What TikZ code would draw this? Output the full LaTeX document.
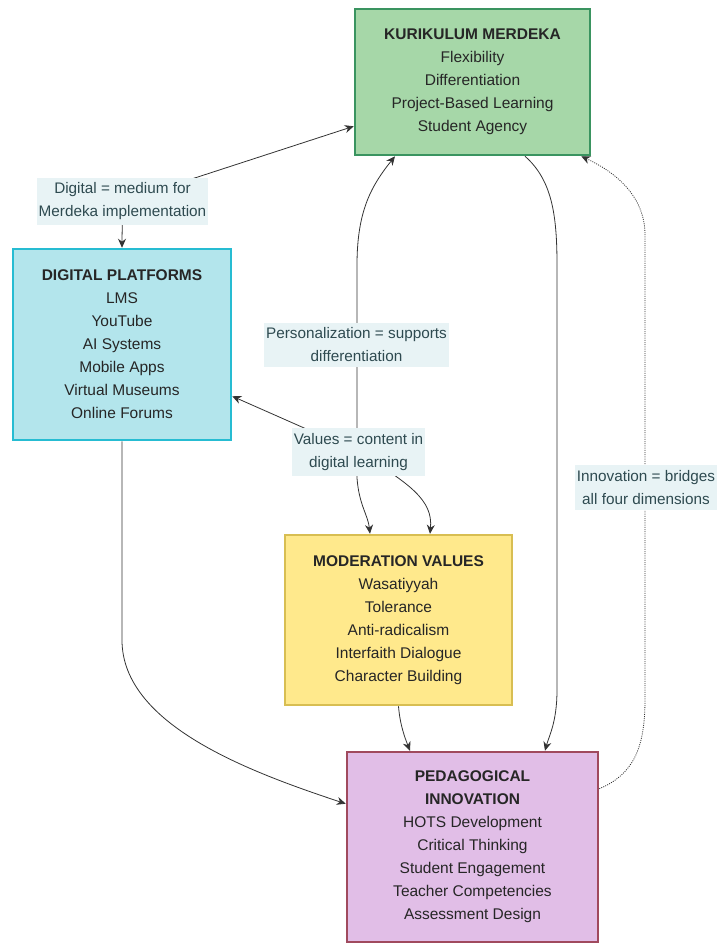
\documentclass[tikz,border=0pt]{standalone}
\usepackage{fontspec}
\setmainfont{Liberation Sans}
\usepackage{tikz}
\usetikzlibrary{calc}
\usetikzlibrary{arrows.meta}
\usetikzlibrary{backgrounds}

\definecolor{kmfill}{HTML}{A6D7A8}
\definecolor{kmline}{HTML}{3A9460}
\definecolor{dpfill}{HTML}{B3E5EC}
\definecolor{dpline}{HTML}{26BCD2}
\definecolor{mvfill}{HTML}{FFE98C}
\definecolor{mvline}{HTML}{D8BE52}
\definecolor{pifill}{HTML}{E1BEE7}
\definecolor{piline}{HTML}{A04A5E}
\definecolor{labelfill}{HTML}{E8F3F5}
\definecolor{labeltext}{HTML}{2E4A50}
\definecolor{edgegray}{HTML}{333333}

\begin{document}
\begin{tikzpicture}[x=1pt,y=-1pt]
  \tikzset{myedge/.style={draw=edgegray, line width=0.8pt, >={Stealth[length=9pt,width=8pt]}}};
  \tikzset{mybox/.style={rectangle, line width=2.5pt, align=center, text=black!85, font=\fontsize{15.5}{23}\selectfont}};
  \tikzset{mylabel/.style={fill=labelfill, text=labeltext, align=center, inner xsep=2pt, inner ysep=5pt, font=\fontsize{15.3}{23}\selectfont}};

  \useasboundingbox (0,0) rectangle (716,943);

  \node[mybox, fill=kmfill, draw=kmline, minimum width=235pt, minimum height=146pt] (km) at (472.5,82)
    {\textbf{KURIKULUM MERDEKA}\\Flexibility\\Differentiation\\Project-Based Learning\\Student Agency};
  \node[mybox, fill=dpfill, draw=dpline, minimum width=218pt, minimum height=191pt] (dp) at (122,344.5)
    {\textbf{DIGITAL PLATFORMS}\\LMS\\YouTube\\AI Systems\\Mobile Apps\\Virtual Museums\\Online Forums};
  \node[mybox, fill=mvfill, draw=mvline, minimum width=227pt, minimum height=170pt] (mv) at (398.5,620)
    {\textbf{MODERATION VALUES}\\Wasatiyyah\\Tolerance\\Anti-radicalism\\Interfaith Dialogue\\Character Building};
  \node[mybox, fill=pifill, draw=piline, minimum width=251pt, minimum height=190pt] (pi) at (472.5,847)
    {\textbf{PEDAGOGICAL}\\\textbf{INNOVATION}\\HOTS Development\\Critical Thinking\\Student Engagement\\Teacher Competencies\\Assessment Design};

  \node[mylabel] (lbldigital) at (122.5,201.5) {Digital = medium for\\Merdeka implementation};
  \node[mylabel] (lblperson) at (356.5,345) {Personalization = supports\\differentiation};
  \node[mylabel] (lblvalues) at (358.5,452) {Values = content in\\digital learning};
  \node[mylabel] (lblinnov) at (646,487.5) {Innovation = bridges\\all four dimensions};

  \coordinate (kmA) at ([yshift=30pt]km.south west);
  \coordinate (kmB) at ([xshift=-77.5pt]km.south);
  \coordinate (kmC) at ([xshift=52.5pt]km.south);
  \coordinate (kmD) at ([xshift=-10pt]km.south east);
  \coordinate (dpE) at ([yshift=45pt]dp.south east);
  \coordinate (mvA) at ([xshift=-28.5pt]mv.north);
  \coordinate (mvB) at ([xshift=31.5pt]mv.north);
  \coordinate (piA) at ([xshift=-62.5pt]pi.north);
  \coordinate (piB) at ([xshift=72.5pt]pi.north);
  \coordinate (piC) at ([yshift=-38pt]pi.north east);
  \coordinate (piW) at ([yshift=-53pt]pi.north west);

  \begin{scope}[on background layer]
    \draw[myedge, <->] (dp.north) .. controls +(0,-14) and +(0,22) .. (lbldigital.center) -- (kmA);
    \draw[myedge, <->] (kmB) .. controls (372,185) and (357,210) .. (357,265) -- (357,478)
      .. controls (359,505) and (368,515) .. (mvA);
    \draw[myedge, <->] (dpE) -- (lblvalues.center) .. controls (410,484) and (433,500) .. (mvB);
    \draw[myedge, ->] (kmC) .. controls (552,180) and (557,215) .. (557,265) -- (557,690)
      .. controls (557,722) and (549,736) .. (piB);
    \draw[myedge, ->, dash pattern=on 1pt off 1.2pt] (piC) .. controls (632,775) and (645,750) .. (645,700) -- (645,235)
      .. controls (645,188) and (602,166) .. (kmD);
    \draw[myedge, ->] (mv.south) .. controls (400,725) and (405,738) .. (piA);
    \draw[myedge, ->] (dp.south) -- (122,640) .. controls (122,725) and (250,772) .. (piW);
  \end{scope}
\end{tikzpicture}
\end{document}
